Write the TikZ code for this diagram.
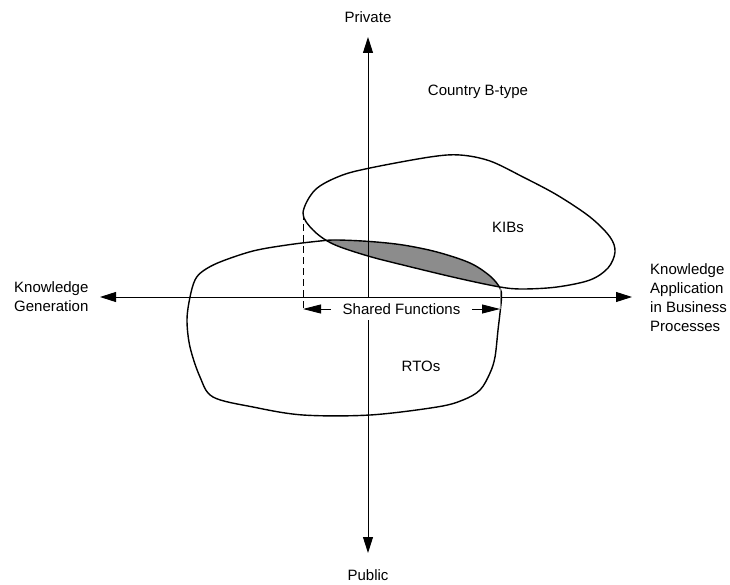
\documentclass[tikz,border=0pt]{standalone}
\usepackage{fontspec}
\setmainfont{Liberation Sans}
\usetikzlibrary{arrows.meta}

\begin{document}
\begin{tikzpicture}
    [x=1pt, y=-1pt,
      every node/.style={font=\fontsize{15}{19}\selectfont, inner sep=0pt},
      axis/.style={line width=0.9pt, -{Triangle[length=16pt,width=10pt]}},
      blob/.style={line width=1.4pt, smooth cycle, tension=0.55},
      span/.style={line width=0.9pt, {Triangle[length=18pt,width=9pt]}-{Triangle[length=18pt,width=9pt]}},
     ]
    \useasboundingbox (0,0) rectangle (730,585);
    % the two fields
    \path[blob, save path=\kibsline] plot coordinates {
      (303,213) (315,190) (340,176) (370,168) (430,157) (460,155) (490,161)
      (523,177) (557,195) (590,217) (610,237) (615,252) (608,268) (590,280)
      (557,287) (523,289) (500,287) (457,278) (407,266) (368,256) (333,244) (313,230)};
    \path[blob, save path=\rtosline] plot coordinates {
      (190,297) (195,280) (203,271) (220,262) (253,251) (287,245) (320,241)
      (337,240) (370,241.5) (403,245) (437,252) (470,263) (490,276) (500,288)
      (501.5,297) (500,313) (498,330) (495,357) (490,373) (480,390) (463,400)
      (437,407) (370,415) (303,415) (253,407) (213,397) (200,377) (190,347) (187,320)};
    \begin{scope}
      \clip[use path=\kibsline];
      \fill[black!45, use path=\rtosline];
    \end{scope}
    \draw[blob, use path=\rtosline];
    \draw[blob, use path=\kibsline];
    % axes
    \coordinate (origin) at (368,297);
    \coordinate (north) at (368,37);
    \coordinate (south) at (368,553);
    \coordinate (west) at (100,297);
    \coordinate (east) at (632,297);
    \draw[axis] (origin) -- (north);
    \draw[axis] (origin) -- (south);
    \draw[axis] (origin) -- (west);
    \draw[axis] (origin) -- (east);
    \node (priv) at (368,17) {Private};
    \node (pub) at (368,575) {Public};
    \node[anchor=west, align=left] (gen) at (14,297) {Knowledge\\Generation};
    \node[anchor=west, align=left] (appl) at (650,298) {Knowledge\\Application\\in Business\\Processes};
    \node (title) at (478,92) {Country B-type};
    \node (kibs) at (508,227) {KIBs};
    \node (rtos) at (421,366) {RTOs};
    % shared functions
    \coordinate (kibsW) at (303,213);
    \coordinate (tip) at (500,288);
    \coordinate (sfL) at (303,309);
    \coordinate (sfR) at (500,309);
    \draw[line width=0.9pt, dash pattern=on 7pt off 4pt] (kibsW) -- (sfL);
    \draw[black!50, line width=0.6pt] (tip) -- (sfR);
    \draw[span] (sfL) -- node[fill=white, inner xsep=12pt, inner ysep=5pt] (shared) {Shared Functions} (sfR);
\end{tikzpicture}
\end{document}
